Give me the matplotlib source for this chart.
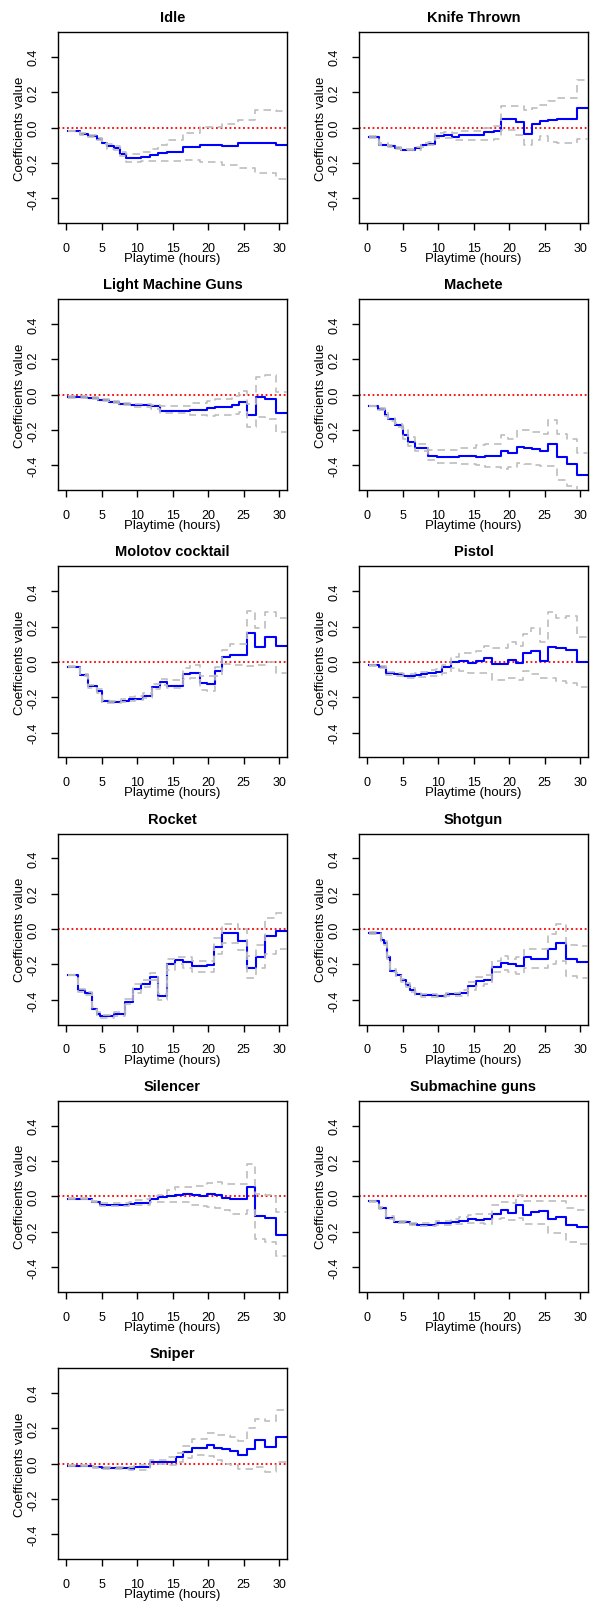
import numpy as np
import matplotlib
matplotlib.use('Agg')
import matplotlib.pyplot as plt

plt.rcParams['font.family'] = ['Liberation Sans', 'DejaVu Sans']

# time-varying coefficients: breakpoints (hours), estimate, lower / upper band

idle_t = [0.3, 2.0, 3.1, 4.3, 5.0, 5.7, 6.7, 7.6, 8.5, 10.6, 11.8, 13.0, 14.2, 16.5, 18.8, 21.9, 24.2, 26.6, 29.5]
idle_est = [-0.02, -0.035, -0.05, -0.065, -0.085, -0.105, -0.115, -0.15, -0.175, -0.165, -0.157, -0.145, -0.138, -0.11, -0.098, -0.104, -0.09, -0.085, -0.098]
idle_hi = [-0.02, -0.03, -0.045, -0.06, -0.075, -0.095, -0.105, -0.14, -0.15, -0.14, -0.12, -0.10, -0.07, -0.03, 0.005, 0.02, 0.04, 0.10, 0.095]
idle_lo = [-0.02, -0.04, -0.055, -0.07, -0.095, -0.12, -0.125, -0.16, -0.195, -0.19, -0.19, -0.19, -0.19, -0.185, -0.195, -0.21, -0.23, -0.26, -0.29]

knife_t = [0.3, 1.7, 2.9, 3.9, 4.8, 6.7, 7.6, 8.6, 9.5, 10.9, 12.0, 13.0, 16.5, 17.8, 18.9, 20.9, 22.1, 23.2, 24.4, 25.5, 26.7, 29.6]
knife_est = [-0.055, -0.098, -0.105, -0.115, -0.125, -0.115, -0.1, -0.095, -0.047, -0.04, -0.052, -0.042, -0.028, -0.022, 0.047, 0.032, -0.037, 0.02, 0.035, 0.042, 0.047, 0.11]
knife_hi = [-0.05, -0.09, -0.1, -0.11, -0.12, -0.11, -0.09, -0.08, -0.03, -0.025, -0.03, -0.02, -0.005, 0.01, 0.12, 0.12, 0.10, 0.11, 0.13, 0.15, 0.165, 0.27]
knife_lo = [-0.06, -0.1, -0.11, -0.12, -0.13, -0.125, -0.11, -0.1, -0.06, -0.06, -0.07, -0.07, -0.07, -0.065, -0.015, -0.04, -0.1, -0.07, -0.05, -0.08, -0.085, -0.065]

lmg_t = [0.3, 3.0, 4.5, 6.0, 7.5, 9.0, 12.0, 13.2, 17.5, 19.9, 21.0, 23.3, 24.3, 25.5, 26.7, 28.0, 29.5]
lmg_est = [-0.015, -0.02, -0.03, -0.04, -0.05, -0.06, -0.065, -0.09, -0.085, -0.075, -0.07, -0.057, -0.042, -0.117, -0.015, -0.022, -0.104]
lmg_hi = [-0.01, -0.015, -0.025, -0.035, -0.045, -0.05, -0.06, -0.065, -0.045, -0.035, -0.025, -0.01, 0.02, -0.05, 0.10, 0.11, 0.015]
lmg_lo = [-0.02, -0.025, -0.035, -0.045, -0.06, -0.07, -0.08, -0.105, -0.115, -0.12, -0.115, -0.11, -0.1, -0.18, -0.125, -0.14, -0.21]

machete_t = [0.3, 1.5, 2.5, 2.9, 3.9, 4.9, 5.1, 5.7, 6.7, 8.6, 9.8, 13.0, 15.4, 16.6, 18.9, 19.9, 21.1, 22.1, 23.2, 24.4, 25.5, 26.7, 28.1, 29.6]
machete_est = [-0.066, -0.08, -0.113, -0.14, -0.17, -0.183, -0.23, -0.265, -0.3, -0.345, -0.35, -0.345, -0.35, -0.345, -0.32, -0.327, -0.293, -0.3, -0.306, -0.32, -0.28, -0.355, -0.39, -0.455]
machete_hi = [-0.066, -0.075, -0.1, -0.13, -0.16, -0.17, -0.2, -0.24, -0.28, -0.31, -0.31, -0.3, -0.285, -0.28, -0.23, -0.25, -0.2, -0.2, -0.21, -0.22, -0.145, -0.22, -0.25, -0.33]
machete_lo = [-0.066, -0.085, -0.12, -0.15, -0.18, -0.195, -0.25, -0.29, -0.32, -0.37, -0.385, -0.39, -0.4, -0.41, -0.42, -0.41, -0.385, -0.39, -0.4, -0.405, -0.405, -0.48, -0.515, -0.56]

molotov_t = [0.3, 2.0, 3.1, 4.3, 5.0, 6.0, 7.8, 8.8, 9.7, 10.9, 12.05, 13.2, 14.2, 16.4, 17.4, 18.8, 19.9, 21.0, 22.0, 23.1, 25.4, 26.6, 28.0, 29.5]
molotov_est = [-0.027, -0.076, -0.137, -0.165, -0.222, -0.226, -0.22, -0.212, -0.207, -0.19, -0.14, -0.114, -0.137, -0.066, -0.06, -0.117, -0.123, -0.05, 0.028, 0.04, 0.163, 0.082, 0.142, 0.09]
molotov_hi = [-0.025, -0.07, -0.13, -0.155, -0.215, -0.22, -0.21, -0.2, -0.195, -0.175, -0.125, -0.095, -0.1, -0.035, -0.02, -0.08, -0.08, -0.03, 0.07, 0.1, 0.29, 0.19, 0.28, 0.25]
molotov_lo = [-0.03, -0.08, -0.145, -0.175, -0.23, -0.232, -0.228, -0.222, -0.218, -0.205, -0.155, -0.13, -0.15, -0.095, -0.09, -0.16, -0.165, -0.08, -0.01, -0.02, -0.025, -0.02, 0.0, -0.065]

pistol_t = [0.3, 1.7, 2.7, 3.8, 5.0, 6.7, 7.6, 8.5, 9.7, 10.6, 11.8, 13.0, 14.2, 15.3, 16.4, 17.6, 19.9, 20.9, 22.0, 23.1, 24.4, 25.4, 26.6, 28.0, 29.5]
pistol_est = [-0.02, -0.03, -0.065, -0.07, -0.08, -0.075, -0.068, -0.062, -0.055, -0.028, 0.0, 0.006, -0.008, 0.004, 0.02, -0.013, 0.012, -0.008, 0.053, 0.06, 0.006, 0.087, 0.076, 0.068, 0.0]
pistol_hi = [-0.015, -0.025, -0.055, -0.06, -0.07, -0.065, -0.055, -0.045, -0.04, -0.015, 0.03, 0.05, 0.05, 0.06, 0.09, 0.08, 0.11, 0.09, 0.16, 0.19, 0.11, 0.28, 0.25, 0.26, 0.14]
pistol_lo = [-0.025, -0.035, -0.075, -0.08, -0.09, -0.088, -0.085, -0.082, -0.08, -0.06, -0.035, -0.05, -0.06, -0.06, -0.06, -0.1, -0.09, -0.1, -0.05, -0.07, -0.09, -0.09, -0.11, -0.12, -0.14]

rocket_t = [0.3, 1.7, 2.7, 3.6, 4.4, 4.8, 6.7, 8.3, 9.4, 10.6, 11.8, 13.0, 14.2, 15.3, 16.5, 17.7, 19.8, 20.8, 22.0, 24.2, 25.5, 26.7, 28.0, 29.6]
rocket_est = [-0.26, -0.347, -0.36, -0.45, -0.48, -0.49, -0.48, -0.41, -0.338, -0.31, -0.27, -0.38, -0.2, -0.176, -0.186, -0.21, -0.205, -0.1, -0.02, -0.066, -0.218, -0.157, -0.04, -0.011]
rocket_hi = [-0.26, -0.34, -0.355, -0.44, -0.47, -0.485, -0.47, -0.395, -0.31, -0.29, -0.25, -0.365, -0.17, -0.16, -0.16, -0.18, -0.18, -0.05, 0.03, 0.0, -0.15, -0.09, 0.06, 0.09]
rocket_lo = [-0.26, -0.355, -0.37, -0.46, -0.49, -0.5, -0.49, -0.425, -0.36, -0.33, -0.29, -0.4, -0.23, -0.2, -0.22, -0.24, -0.245, -0.14, -0.08, -0.12, -0.275, -0.22, -0.14, -0.11]

shotgun_t = [0.3, 2.0, 2.4, 2.8, 3.2, 4.1, 4.8, 5.5, 6.0, 6.7, 7.6, 9.9, 11.1, 13.1, 14.2, 15.3, 16.5, 17.6, 18.8, 19.9, 21.0, 22.1, 23.1, 25.4, 26.6, 28.0, 29.6]
shotgun_est = [-0.02, -0.06, -0.08, -0.16, -0.235, -0.26, -0.29, -0.317, -0.345, -0.365, -0.375, -0.377, -0.368, -0.36, -0.32, -0.295, -0.285, -0.213, -0.19, -0.2, -0.21, -0.157, -0.17, -0.11, -0.076, -0.17, -0.186]
shotgun_hi = [-0.015, -0.05, -0.07, -0.15, -0.225, -0.25, -0.28, -0.305, -0.335, -0.355, -0.365, -0.37, -0.36, -0.345, -0.3, -0.27, -0.26, -0.18, -0.15, -0.17, -0.16, -0.11, -0.11, -0.03, 0.03, -0.09, -0.095]
shotgun_lo = [-0.025, -0.07, -0.09, -0.17, -0.245, -0.27, -0.3, -0.33, -0.355, -0.375, -0.385, -0.385, -0.38, -0.38, -0.345, -0.32, -0.31, -0.245, -0.23, -0.24, -0.255, -0.22, -0.22, -0.2, -0.18, -0.265, -0.275]

silencer_t = [0.3, 3.6, 4.8, 7.4, 8.8, 9.7, 10.9, 11.8, 13.0, 14.2, 15.3, 16.4, 17.7, 18.8, 19.9, 21.0, 22.0, 23.1, 25.4, 26.6, 28.0, 29.5]
silencer_est = [-0.015, -0.03, -0.05, -0.05, -0.043, -0.038, -0.04, -0.015, -0.006, 0.0, 0.009, 0.013, 0.005, 0.0, 0.013, 0.005, -0.009, -0.015, 0.053, -0.11, -0.125, -0.22]
silencer_hi = [-0.012, -0.025, -0.04, -0.04, -0.03, -0.02, -0.015, 0.0, 0.01, 0.035, 0.05, 0.055, 0.06, 0.06, 0.075, 0.083, 0.07, 0.07, 0.18, 0.015, 0.005, -0.09]
silencer_lo = [-0.018, -0.035, -0.055, -0.055, -0.052, -0.05, -0.05, -0.035, -0.03, -0.03, -0.03, -0.03, -0.05, -0.055, -0.06, -0.065, -0.08, -0.1, -0.08, -0.24, -0.26, -0.34]

smg_t = [0.3, 1.7, 2.7, 3.8, 6.0, 7.1, 9.7, 11.8, 13.0, 14.2, 15.3, 16.5, 17.6, 18.8, 19.8, 20.9, 22.0, 23.1, 24.2, 25.4, 26.6, 28.0, 29.6]
smg_est = [-0.028, -0.066, -0.12, -0.145, -0.156, -0.16, -0.15, -0.145, -0.14, -0.13, -0.135, -0.13, -0.098, -0.075, -0.094, -0.05, -0.103, -0.09, -0.085, -0.126, -0.116, -0.164, -0.173]
smg_hi = [-0.025, -0.06, -0.113, -0.14, -0.15, -0.152, -0.14, -0.13, -0.115, -0.105, -0.1, -0.1, -0.05, -0.03, -0.04, 0.005, -0.025, -0.025, -0.025, -0.025, -0.025, -0.065, -0.08]
smg_lo = [-0.03, -0.07, -0.127, -0.15, -0.162, -0.168, -0.16, -0.155, -0.155, -0.15, -0.15, -0.155, -0.13, -0.12, -0.135, -0.12, -0.155, -0.155, -0.155, -0.21, -0.21, -0.26, -0.27]

sniper_t = [0.3, 3.8, 5.0, 7.6, 8.8, 9.5, 11.8, 14.2, 15.5, 16.5, 17.7, 19.8, 20.8, 22.0, 23.1, 24.2, 25.4, 26.6, 28.0, 29.5]
sniper_est = [-0.013, -0.022, -0.028, -0.028, -0.03, -0.022, 0.008, 0.011, 0.038, 0.066, 0.089, 0.104, 0.089, 0.081, 0.07, 0.047, 0.081, 0.132, 0.094, 0.151]
sniper_hi = [-0.01, -0.018, -0.022, -0.022, -0.022, -0.01, 0.02, 0.035, 0.06, 0.1, 0.14, 0.17, 0.16, 0.16, 0.15, 0.13, 0.2, 0.25, 0.24, 0.3]
sniper_lo = [-0.016, -0.026, -0.033, -0.033, -0.038, -0.034, 0.0, -0.01, 0.01, 0.03, 0.05, 0.04, 0.02, 0.0, -0.01, -0.03, -0.03, -0.02, -0.05, 0.01]

names = ['Idle', 'Knife Thrown', 'Light Machine Guns', 'Machete', 'Molotov cocktail', 'Pistol',
         'Rocket', 'Shotgun', 'Silencer', 'Submachine guns', 'Sniper']
panels = [
    (idle_t, idle_est, idle_lo, idle_hi),
    (knife_t, knife_est, knife_lo, knife_hi),
    (lmg_t, lmg_est, lmg_lo, lmg_hi),
    (machete_t, machete_est, machete_lo, machete_hi),
    (molotov_t, molotov_est, molotov_lo, molotov_hi),
    (pistol_t, pistol_est, pistol_lo, pistol_hi),
    (rocket_t, rocket_est, rocket_lo, rocket_hi),
    (shotgun_t, shotgun_est, shotgun_lo, shotgun_hi),
    (silencer_t, silencer_est, silencer_lo, silencer_hi),
    (smg_t, smg_est, smg_lo, smg_hi),
    (sniper_t, sniper_est, sniper_lo, sniper_hi),
]

xticks = [0, 5, 10, 15, 20, 25, 30]
yticks = [-0.4, -0.2, 0.0, 0.2, 0.4]

W, H = 600, 1606
fig = plt.figure(figsize=(W / 100, H / 100), dpi=100)

ax_w, ax_h = 229, 191
lefts = [58, 359]
tops = [33 + i * 267.2 for i in range(6)]


def stepline(ax, t, y, **kw):
    x = list(t) + [33]
    v = list(y) + [y[-1]]
    ax.step(x, v, where='post', **kw)


for i, name in enumerate(names):
    r, c = divmod(i, 2)
    ax = fig.add_axes([lefts[c] / W, 1 - (tops[r] + ax_h) / H, ax_w / W, ax_h / H])
    t, est, lo, hi = panels[i]

    ax.axhline(0, color='red', lw=1.3, linestyle=(0, (1, 1.5)), zorder=1)
    stepline(ax, t, est, color='#0000FF', lw=1.5, zorder=2)
    for band in (lo, hi):
        stepline(ax, t, band, color='#BEBEBE', lw=1.2, linestyle=(0, (4.5, 3)), zorder=3)

    ax.set_xlim(-1.13, 31.1)
    ax.set_ylim(-0.54, 0.54)
    ax.set_xticks(xticks)
    ax.set_yticks(yticks)
    ax.set_xticklabels([str(v) for v in xticks])
    ax.set_yticklabels(['%.1f' % v for v in yticks])
    ax.tick_params(length=5, width=1, labelsize=9, direction='out')
    ax.tick_params(axis='x', pad=8.5)
    ax.tick_params(axis='y', pad=8.0, labelrotation=90)
    for lab in ax.get_yticklabels():
        lab.set_va('center')
    for sp in ax.spines.values():
        sp.set_linewidth(1.0)
        sp.set_color('black')

    ax.set_xlabel('Playtime (hours)', fontsize=9.5, va='center')
    ax.xaxis.set_label_coords(0.5, -35 / ax_h)
    ax.set_ylabel('Coefficients value', fontsize=9.5, va='center')
    ax.yaxis.set_label_coords(-38 / ax_w, 0.5)
    ax.text(0.5, 1 + 15 / ax_h, name, transform=ax.transAxes, ha='center', va='center',
            fontsize=10.5, fontweight='bold')

fig.savefig('out.png', dpi=100)
